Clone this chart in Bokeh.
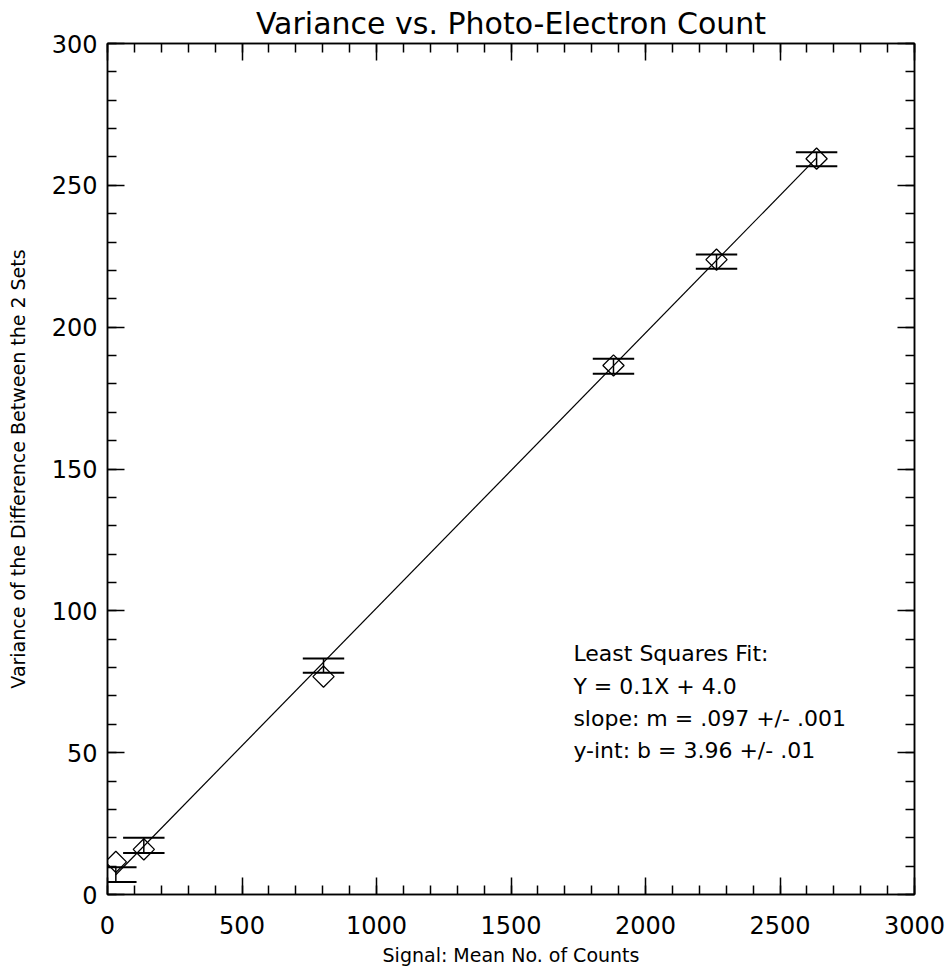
import numpy as np
from bokeh.plotting import figure
from bokeh.models import (LinearAxis, Range1d, Label, CustomJSTickFormatter,
                          SingleIntervalTicker)
from bokeh.embed import file_html
from bokeh.resources import INLINE

# ---- data ----
signal = [31, 135, 803, 1881, 2264, 2636]            # mean no. of counts
variance = [11.5, 15.9, 76.8, 186.5, 223.8, 259.4]   # diamond markers
err_center = [7.0, 17.3, 80.7, 186.2, 223.1, 259.2]  # error bar centres
err_half = [2.6, 2.7, 2.5, 2.65, 2.5, 2.5]           # error bar half-length
fit_slope = 0.097
fit_intercept = 3.96
fit_text = ["Least Squares Fit:", "Y = 0.1X + 4.0",
            "slope: m = .097 +/- .001", "y-int: b = 3.96 +/- .01"]
fit_text_y = [85.0, 73.3, 61.9, 50.6]
fit_text_x = 1732

# ---- styles ----
FONT = "DejaVu Sans"
CAP_HALF = 77   # half-width of error-bar caps in data units

p = figure(width=948, height=977, x_range=Range1d(0, 3000), y_range=Range1d(0, 300),
           output_backend="svg", toolbar_location=None,
           min_border_left=107, min_border_right=34, min_border_top=43, min_border_bottom=83,
           title="Variance vs. Photo-Electron Count")
p.background_fill_color = "white"
p.border_fill_color = "white"
p.xgrid.visible = False
p.ygrid.visible = False
p.outline_line_color = "black"
p.outline_line_width = 1.5

p.title.align = "center"
p.title.text_font = FONT
p.title.text_font_style = "normal"
p.title.text_font_size = "30px"
p.title.text_color = "black"
p.title.standoff = 6
p.title.offset = 0


def style_axis(ax, labels=True):
    ax.axis_line_color = "black"
    ax.axis_line_width = 1.5
    ax.major_tick_line_color = "black"
    ax.major_tick_line_width = 1.5
    ax.minor_tick_line_color = "black"
    ax.minor_tick_line_width = 1.5
    ax.major_tick_in = 17
    ax.major_tick_out = 0
    ax.minor_tick_in = 9
    ax.minor_tick_out = 0
    ax.major_label_text_font = FONT
    ax.major_label_text_font_size = "24px"
    ax.major_label_text_color = "black"
    ax.axis_label_text_font = FONT
    ax.axis_label_text_font_size = "19px"
    ax.axis_label_text_font_style = "normal"
    ax.axis_label_text_color = "black"
    if not labels:
        ax.formatter = CustomJSTickFormatter(code="return ''")
        ax.major_label_standoff = 0


xticker = SingleIntervalTicker(interval=500, num_minor_ticks=5)
yticker = SingleIntervalTicker(interval=50, num_minor_ticks=5)

xa = p.xaxis[0]
xa.ticker = xticker
xa.axis_label = "Signal: Mean No. of Counts"
style_axis(xa)
xa.major_label_standoff = 21
xa.axis_label_standoff = 7

ya = p.yaxis[0]
ya.ticker = yticker
ya.axis_label = "Variance of the Difference Between the 2 Sets"
style_axis(ya)
ya.major_label_standoff = 10
ya.axis_label_standoff = 20

top = LinearAxis(ticker=SingleIntervalTicker(interval=500, num_minor_ticks=5))
style_axis(top, labels=False)
p.add_layout(top, "above")
right = LinearAxis(ticker=SingleIntervalTicker(interval=50, num_minor_ticks=5))
style_axis(right, labels=False)
p.add_layout(right, "right")

# fit line
xs = np.array([signal[0], signal[-1]], dtype=float)
p.line(xs, fit_slope * xs + fit_intercept, line_color="black", line_width=1.2)

# error bars
sx = np.array(signal, dtype=float)
lo = np.array(err_center) - np.array(err_half)
hi = np.array(err_center) + np.array(err_half)
p.segment(x0=sx, y0=lo, x1=sx, y1=hi, line_color="black", line_width=1.5)
p.segment(x0=sx - CAP_HALF, y0=lo, x1=sx + CAP_HALF, y1=lo, line_color="black", line_width=2)
p.segment(x0=sx - CAP_HALF, y0=hi, x1=sx + CAP_HALF, y1=hi, line_color="black", line_width=2)

# diamonds
p.scatter(signal, variance, marker="square", angle=np.pi / 4, size=15,
          fill_color=None, line_color="black", line_width=1.3)

for txt, ty in zip(fit_text, fit_text_y):
    p.add_layout(Label(x=fit_text_x, y=ty, text=txt, text_font=FONT,
                       text_font_size="22px", text_color="black",
                       text_baseline="middle", text_align="left"))

open("out.html", "w").write(file_html(p, INLINE))
